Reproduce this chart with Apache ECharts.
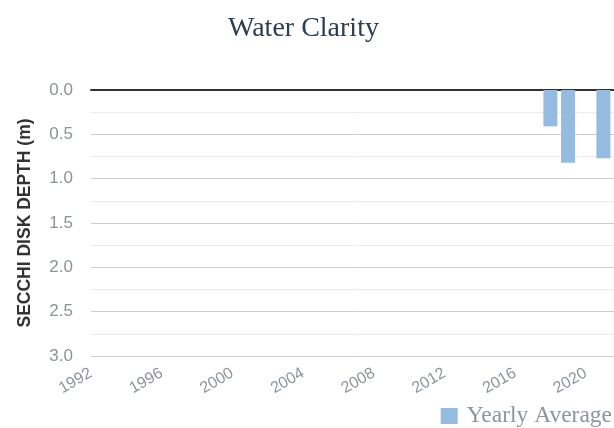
<!DOCTYPE html>
<html>
<head>
<meta charset="utf-8">
<script src="https://cdn.jsdelivr.net/npm/echarts@6/dist/echarts.min.js"></script>
<style>
  html, body { margin: 0; padding: 0; background: #fff; }
  #main { width: 614px; height: 428px; }
</style>
</head>
<body>
<div id="main"></div>
<script>
var years = [2018, 2019, 2021];
var depths = [0.41, 0.82, 0.77];
var yearTicks = [1992, 1996, 2000, 2004, 2008, 2012, 2016, 2020];

var myChart = echarts.init(document.getElementById('main'));

var barData = [];
for (var i = 0; i < years.length; i++) {
    barData.push([years[i], depths[i]]);
}

var option = {
    animation: false,
    title: {
        text: 'Water Clarity',
        left: 228,
        top: 15,
        padding: 0,
        textStyle: {
            fontFamily: 'Liberation Serif',
            fontWeight: 'normal',
            fontSize: 28,
            color: '#2c3e50'
        }
    },
    legend: {
        right: 2,
        top: 404,
        padding: 0,
        itemWidth: 17,
        itemHeight: 16,
        icon: 'rect',
        data: ['Yearly Average'],
        textStyle: {
            fontFamily: 'Liberation Serif',
            fontSize: 23.5,
            color: '#8c959f',
            padding: [0, 0, 0, 4]
        }
    },
    grid: {
        left: 91,
        right: 0,
        top: 90,
        bottom: 72
    },
    xAxis: [
        {
            type: 'value',
            min: 1992,
            max: 2021.6,
            interval: 4,
            position: 'bottom',
            axisLine: { show: false },
            axisTick: { show: false },
            splitLine: { show: false },
            axisLabel: {
                rotate: 30,
                margin: 16,
                fontFamily: 'Liberation Sans',
                fontSize: 16,
                color: '#8b939c',
                showMaxLabel: false,
                formatter: function (v) {
                    return yearTicks.indexOf(v) >= 0 ? String(v) : '';
                }
            }
        },
        {
            type: 'value',
            min: 1992,
            max: 2021.6,
            position: 'top',
            axisLine: { show: true, lineStyle: { color: '#333', width: 2 } },
            axisTick: { show: false },
            axisLabel: { show: false },
            splitLine: { show: false }
        }
    ],
    yAxis: {
        type: 'value',
        inverse: true,
        min: 0,
        max: 3,
        interval: 0.25,
        name: 'SECCHI DISK DEPTH (m)',
        nameLocation: 'middle',
        nameGap: 57,
        nameTextStyle: {
            fontFamily: 'Liberation Sans',
            fontWeight: 'bold',
            fontSize: 17.5,
            color: '#333'
        },
        axisLine: { show: false },
        axisTick: { show: false },
        axisLabel: {
            margin: 18,
            fontFamily: 'Liberation Sans',
            fontSize: 17,
            color: '#8b939c',
            padding: [3, 0, 0, 0],
            formatter: function (v) {
                return Math.round(v * 100) % 50 === 0 ? v.toFixed(1) : '';
            }
        },
        splitLine: {
            lineStyle: {
                color: ['#cccccc', '#ebebeb'],
                width: 1
            }
        }
    },
    series: [
        {
            name: 'Yearly Average',
            type: 'bar',
            xAxisIndex: 0,
            barWidth: 14,
            itemStyle: { color: '#95bbe0' },
            data: barData
        }
    ]
};
myChart.setOption(option);
</script>
</body>
</html>
